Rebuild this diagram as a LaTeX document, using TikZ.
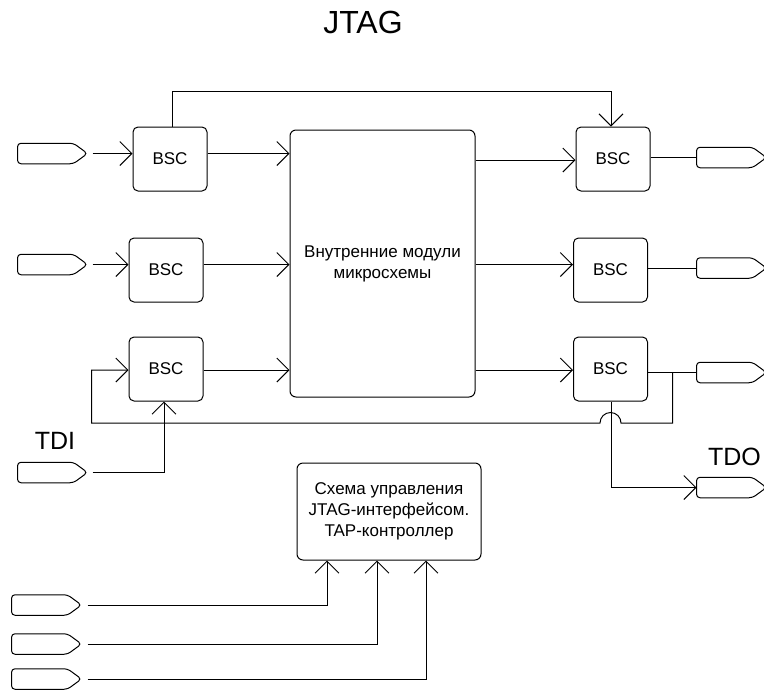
\documentclass[tikz,border=0pt]{standalone}
\usepackage{fontspec}
\setmainfont{Liberation Sans}
\usetikzlibrary{arrows.meta}

\begin{document}
\begin{tikzpicture}[x=1pt,y=1pt,
  line width=1pt,
  arr/.style={-{Straight Barb[length=12pt,width=24pt]}},
  bsc/.style={draw,rounded corners=5pt,minimum width=74pt,minimum height=64pt,
    inner sep=0pt,font=\fontsize{17}{21}\selectfont},
  block/.style={draw,rounded corners=6pt,inner sep=0pt,align=center,
    font=\fontsize{17}{21}\selectfont},
  pinbox/.style={rectangle,minimum width=69pt,minimum height=19.5pt,inner sep=0pt},
  lbl/.style={font=\fontsize{25}{30}\selectfont,inner sep=0pt}]

\useasboundingbox (0,0) rectangle (764,-689);

% title and large blocks
\node[lbl,font=\fontsize{32}{36}\selectfont] (title) at (363,-22.5) {JTAG};
\node[block,minimum width=185pt,minimum height=267pt] (core) at (382.5,-263.5)
  {Внутренние модули\\микросхемы};
\node[block,minimum width=184pt,minimum height=97pt] (tap) at (389,-511.5)
  {Схема управления\\JTAG-интерфейсом.\\TAP-контроллер};

% boundary scan cells
\node[bsc] (bL1) at (170,-159) {BSC};
\node[bsc] (bL2) at (166,-270) {BSC};
\node[bsc] (bL3) at (166,-369) {BSC};
\node[bsc] (bR1) at (613,-159) {BSC};
\node[bsc] (bR2) at (610.5,-270) {BSC};
\node[bsc] (bR3) at (610.5,-369) {BSC};

% package pins
\node[pinbox] (pL1)  at (52.5,-153.5) {};
\node[pinbox] (pL2)  at (52.5,-264.5) {};
\node[pinbox] (pTDI) at (52.5,-472.5) {};
\node[pinbox] (pR1)  at (731.5,-157.5) {};
\node[pinbox] (pR2)  at (731.5,-268) {};
\node[pinbox] (pR3)  at (731.5,-372.5) {};
\node[pinbox] (pTDO) at (731.5,-487.5) {};
\node[pinbox] (pC1)  at (46.5,-605) {};
\node[pinbox] (pC2)  at (46.5,-644) {};
\node[pinbox] (pC3)  at (46.5,-679) {};
% pin outline: rounded back end, pointed front
\foreach \p in {pL1,pL2,pTDI,pR1,pR2,pR3,pTDO,pC1,pC2,pC3}
  \draw[rounded corners=3.5pt] (\p.east) -- ([xshift=-14pt]\p.north east)
    -- (\p.north west) -- (\p.south west) -- ([xshift=-14pt]\p.south east) -- cycle;

% pin labels
\node[lbl] (tdi) at (55,-441) {TDI};
\node[lbl] (tdo) at (734.5,-456.5) {TDO};

% row 1
\draw[arr] ([xshift=5pt]pL1.east) -- (pL1.east -| bL1.west);
\draw[arr] (pL1.east -| bL1.east) -- (pL1.east -| core.west);
\draw[arr] ([xshift=2pt]bL1.north) -- ++(0,35) -| ([xshift=-2pt]bR1.north);
\draw[arr] ([yshift=-1pt]bR1.west -| core.east) -- ([yshift=-1pt]bR1.west);
\draw (pR1.west -| bR1.east) -- (pR1.west);

% row 2
\draw[arr] ([xshift=5pt]pL2.east) -- (pL2.east -| bL2.west);
\draw[arr] (pL2.east -| bL2.east) -- (pL2.east -| core.west);
\draw[arr] (pL2.east -| core.east) -- (pL2.east -| bR2.west);
\draw (pR2.west -| bR2.east) -- (pR2.west);

% row 3
\draw[arr] ([yshift=-1pt]bL3.east) -- ([yshift=-1pt]bL3.east -| core.west);
\draw[arr] ([yshift=-1pt]bR3.west -| core.east) -- ([yshift=-1pt]bR3.west);
\draw (pR3.west -| bR3.east) -- (pR3.west);

% scan chain feedback with a hop over the TDO line
\coordinate (tapR3) at ([xshift=-24pt]pR3.west);
\coordinate (loopR) at ([yshift=-50.5pt]tapR3);
\draw[arr] (tapR3) -- (loopR)
  -- ([xshift=10.5pt]loopR -| bR3.south)
  arc[start angle=0,end angle=180,radius=10.5pt]
  -- ([xshift=-37pt]loopR -| bL3.west)
  |- ([yshift=-1pt]bL3.west);

% TDI and TDO
\draw[arr] ([xshift=5pt]pTDI.east) -| ([xshift=-2pt]bL3.south);
\draw[arr] ([xshift=0.5pt]bR3.south) |- (pTDO.west);

% TAP controller inputs
\draw[arr] ([xshift=6pt]pC1.east) -| ([xshift=-62pt]tap.south);
\draw[arr] ([xshift=6pt]pC2.east) -| ([xshift=-12pt]tap.south);
\draw[arr] ([xshift=6pt]pC3.east) -| ([xshift=37pt]tap.south);
\end{tikzpicture}
\end{document}
